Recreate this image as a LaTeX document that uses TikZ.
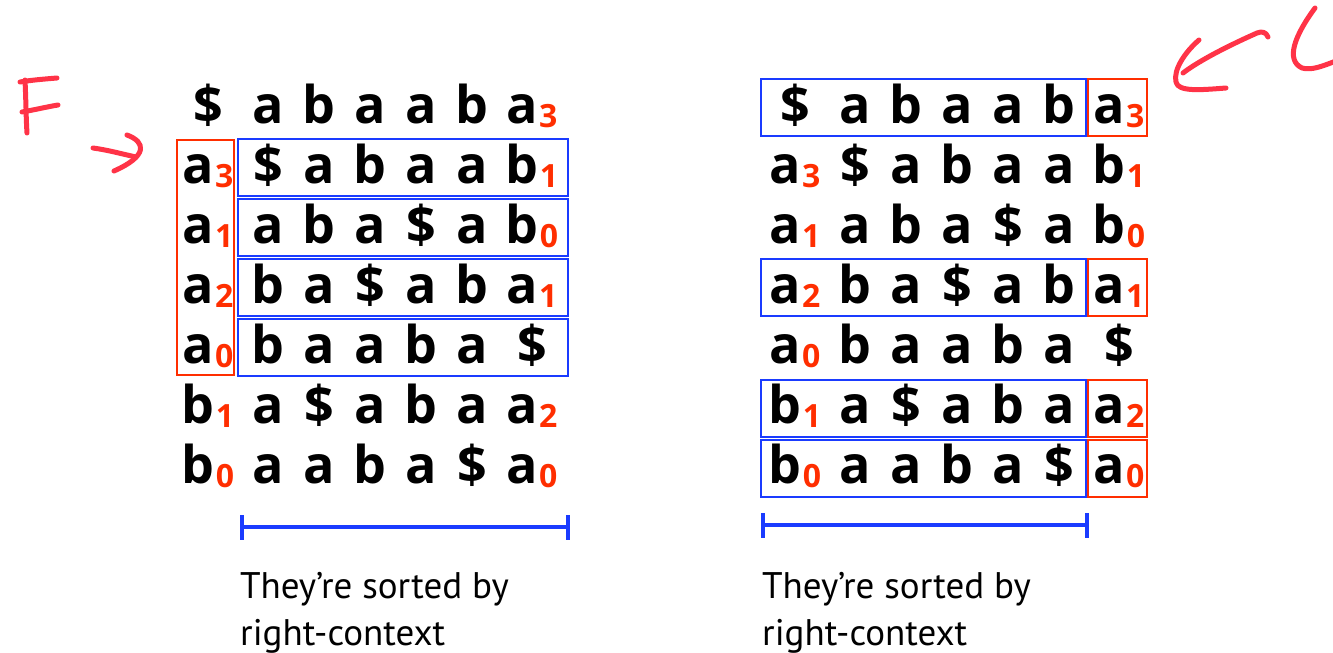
\documentclass[tikz,border=0pt]{standalone}
\usepackage{fontspec}
\setmainfont{Open Sans}
\newfontfamily\capfont{PT Sans}
\definecolor{bx}{HTML}{1A3BFF}
\definecolor{rd}{HTML}{FF2E00}
\definecolor{ink}{HTML}{FF3347}
\newcommand\subn[1]{\kern1pt\raisebox{-4pt}{\textcolor{rd}{\fontsize{32}{32}\selectfont\bfseries #1}}}
\newcommand\mkrow[4]{%
  \foreach \t [count=\c from 0] in {#4} {%
    \pgfmathsetmacro\xx{{208,268,319,370,421,472,532}[\c]+#2}%
    \node[cell] (#1#3-\c) at (\xx, {123+60*#3}) {\t};
  }%
}
\tikzset{
  cell/.style={anchor=base, inner sep=0pt, font=\fontsize{52}{52}\selectfont\bfseries},
  bluebox/.style={draw=bx, line width=2.8pt, inner sep=0pt, minimum height=57pt},
  redbox/.style={draw=rd, line width=2.4pt, inner sep=0pt},
  bar/.style={draw=bx, line width=4pt},
  caption/.style={anchor=base west, inner sep=0pt, font=\capfont\fontsize{37}{37}\selectfont},
  ink/.style={draw=ink, line width=5pt, line cap=round, line join=round}
}
\begin{document}
\begin{tikzpicture}[x=1pt, y=-1pt]
\useasboundingbox (0,0) rectangle (1333,653);
% matrices
\foreach \s/\o in {L/0,R/587} {
  \mkrow{\s}{\o}{0}{{\$},a,b,a,a,b,{a\subn3}}
  \mkrow{\s}{\o}{1}{{a\subn3},{\$},a,b,a,a,{b\subn1}}
  \mkrow{\s}{\o}{2}{{a\subn1},a,b,a,{\$},a,{b\subn0}}
  \mkrow{\s}{\o}{3}{{a\subn2},b,a,{\$},a,b,{a\subn1}}
  \mkrow{\s}{\o}{4}{{a\subn0},b,a,a,b,a,{\$}}
  \mkrow{\s}{\o}{5}{{b\subn1},a,{\$},a,b,a,{a\subn2}}
  \mkrow{\s}{\o}{6}{{b\subn0},a,a,b,a,{\$},{a\subn0}}
}
% left boxes
\node[redbox, minimum width=57pt, minimum height=235pt] (Lred) at (205.5,257.5) {};
\node[bluebox, minimum width=330pt] (Lb1) at (403,167.5) {};
\node[bluebox, minimum width=330pt] (Lb2) at (403,227.5) {};
\node[bluebox, minimum width=330pt] (Lb3) at (403,287.5) {};
\node[bluebox, minimum width=330pt] (Lb4) at (403,347.5) {};
% right boxes
\foreach \r/\yy in {0/107.5,3/287.5,5/408.5,6/468.5} {
  \node[bluebox, minimum width=325pt] (Rb\r) at (923.5,\yy) {};
  \node[redbox, minimum width=59pt, minimum height=57pt] (Rr\r) at (1117.5,\yy) {};
}
% bars
\coordinate (bl1) at (242,527); \coordinate (bl2) at (568,527);
\coordinate (br1) at (763,525); \coordinate (br2) at (1087,525);
\draw[bar] (bl1) -- (bl2);
\draw[bar] ([yshift=12pt]bl1) -- ([yshift=-13pt]bl1);
\draw[bar] ([yshift=12pt]bl2) -- ([yshift=-13pt]bl2);
\draw[bar] (br1) -- (br2);
\draw[bar] ([yshift=12pt]br1) -- ([yshift=-13pt]br1);
\draw[bar] ([yshift=12pt]br2) -- ([yshift=-13pt]br2);
% captions
\node[caption] (cl1) at (240,598) {They’re sorted by};
\node[caption] (cl2) at (240,645) {right-context};
\node[caption] (cr1) at (762,598) {They’re sorted by};
\node[caption] (cr2) at (762,645) {right-context};
% handwriting F
\draw[ink] (25,80) .. controls (26,100) and (26,118) .. (27,133);
\draw[ink] (20,82) .. controls (32,80) and (45,79) .. (57,78);
\draw[ink] (22,112) .. controls (34,110) and (46,107) .. (58,105);
% handwritten arrow to F column
\draw[ink] (93,148) .. controls (108,150) and (122,154) .. (136,157);
\draw[ink] (127,135) .. controls (146,142) and (148,156) .. (114,171);
% handwritten arrow top right
\draw[ink] (1268,37) .. controls (1266,32) and (1262,31) .. (1257,33) .. controls (1230,45) and (1200,60) .. (1183,73);
\draw[ink] (1199,40) .. controls (1185,52) and (1173,70) .. (1176,82) .. controls (1178,92) and (1200,90) .. (1226,88);
\draw[ink] (1315,8) .. controls (1295,35) and (1285,60) .. (1302,68) .. controls (1312,71) and (1325,65) .. (1336,61);
\end{tikzpicture}
\end{document}
